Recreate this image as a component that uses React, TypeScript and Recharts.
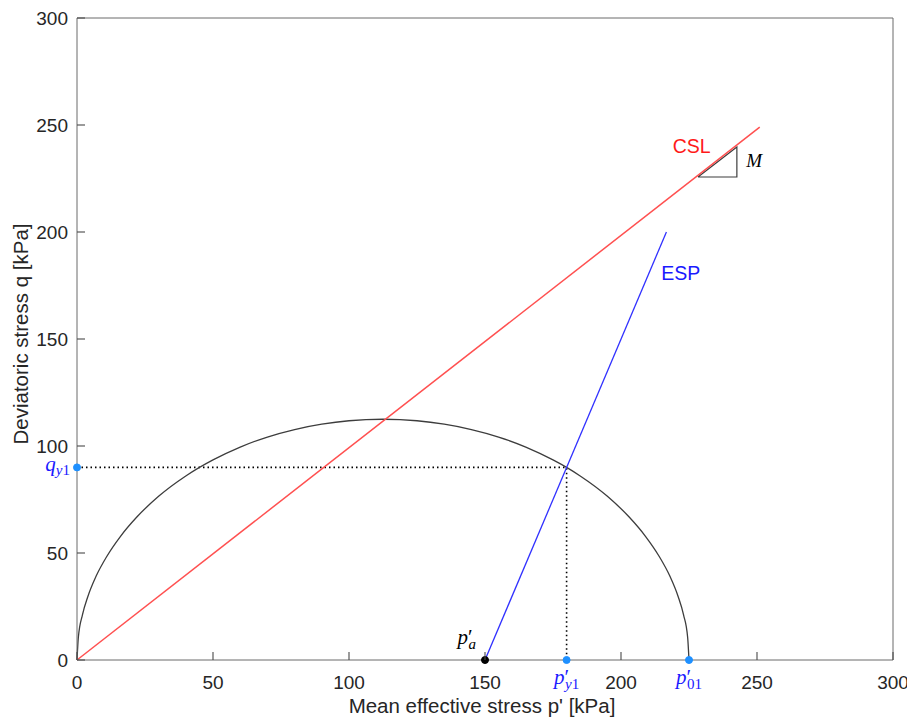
import React from 'react';
import { ComposedChart, Line, XAxis, YAxis, ReferenceDot } from 'recharts';

const axisTicks = [0, 50, 100, 150, 200, 250, 300];

const ellipseP = [0, 0.5, 2, 4, 7, 11, 16, 22, 30, 40, 50, 60, 70, 80, 90, 100, 112.5, 125, 135, 145, 155, 165, 175, 180, 185, 195, 203, 209, 214, 218, 221, 223, 224.5, 225];
const ellipseQ = [0, 10.6, 21.1, 29.7, 39.1, 48.5, 57.8, 66.8, 76.5, 86.0, 93.5, 99.5, 104.2, 107.7, 110.2, 111.8, 112.5, 111.8, 110.2, 107.7, 104.2, 99.5, 93.5, 90.0, 86.0, 76.5, 66.8, 57.8, 48.5, 39.1, 29.7, 21.1, 10.6, 0];

const cslP = [0, 251];
const cslQ = [0, 249];

const espP = [150, 216.7];
const espQ = [0, 200];

const guideP = [0, 180, 180];
const guideQ = [90, 90, 0];

const slopeP = [228.3, 242.6, 242.6, 228.3];
const slopeQ = [225.7, 225.7, 239.7, 225.7];

const markerP = [0, 180, 225, 150];
const markerQ = [90, 0, 0, 0];
const markerKind = ['qy1', 'py1', 'p01', 'pa'];
const markerColor = ['#1e90ff', '#1e90ff', '#1e90ff', '#000000'];

const noteText = ['CSL', 'ESP', 'M'];
const noteP = [226, 222, 249];
const noteQ = [237, 177.6, 230.4];

const zip = (ps: number[], qs: number[]) => ps.map((p, i) => ({ p, q: qs[i] }));

const ellipseData = zip(ellipseP, ellipseQ);
const cslData = zip(cslP, cslQ);
const espData = zip(espP, espQ);
const guideData = zip(guideP, guideQ);
const slopeData = zip(slopeP, slopeQ);

const BLUE = '#1a1aff';
const SERIF = '"Liberation Serif", "DejaVu Serif", serif';
const SANS = '"Liberation Sans", Arial, Helvetica, sans-serif';
const AXIS = '#6b6b6b';
const TICKCOL = '#4a4a4a';
const TICKLEN = 8;
const TEXTCOL = '#262626';

const center = (viewBox: any) => ({
  cx: viewBox.x + (viewBox.width || 0) / 2,
  cy: viewBox.y + (viewBox.height || 0) / 2,
});

const BottomTick = (props: any) => {
  const { x, y, payload } = props;
  const gap = 16;
  return (
    <g>
      <line x1={x} x2={x} y1={y - gap} y2={y - gap - TICKLEN} stroke={TICKCOL} strokeWidth={1.1} />
      <text x={x} y={y} dy="0.71em" textAnchor="middle" fill={TEXTCOL} fontFamily={SANS} fontSize={19}>
        {payload.value}
      </text>
    </g>
  );
};

const LeftTick = (props: any) => {
  const { x, y, payload } = props;
  const gap = 9;
  return (
    <g>
      <line x1={x + gap} x2={x + gap + TICKLEN} y1={y} y2={y} stroke={TICKCOL} strokeWidth={1.1} />
      <text x={x} y={y} dy="0.355em" textAnchor="end" fill={TEXTCOL} fontFamily={SANS} fontSize={19}>
        {payload.value}
      </text>
    </g>
  );
};

const TopTick = (props: any) => {
  const { x, y } = props;
  return <line x1={x} x2={x} y1={y} y2={y + TICKLEN} stroke={TICKCOL} strokeWidth={1.1} />;
};

const RightTick = (props: any) => {
  const { x, y } = props;
  return <line x1={x} x2={x - TICKLEN} y1={y} y2={y} stroke={TICKCOL} strokeWidth={1.1} />;
};

const MathLabel = (props: any) => {
  const { viewBox, kind } = props;
  if (!viewBox) return null;
  const { cx, cy } = center(viewBox);
  if (kind === 'qy1') {
    return (
      <text x={cx - 7} y={cy + 4} textAnchor="end" fill={BLUE} fontFamily={SERIF} fontSize={21}>
        <tspan fontStyle="italic">q</tspan>
        <tspan fontSize={15} dy={4}>
          <tspan fontStyle="italic">y</tspan>1
        </tspan>
      </text>
    );
  }
  if (kind === 'py1' || kind === 'p01') {
    return (
      <text x={cx} y={cy + 24} textAnchor="middle" fill={BLUE} fontFamily={SERIF} fontSize={21}>
        <tspan fontStyle="italic">p</tspan>
        <tspan>′</tspan>
        <tspan fontSize={15} dy={5} dx={-4}>
          {kind === 'py1' ? (
            <>
              <tspan fontStyle="italic">y</tspan>1
            </>
          ) : (
            '01'
          )}
        </tspan>
      </text>
    );
  }
  return (
    <text x={cx - 9} y={cy - 16} textAnchor="end" fill="#000" fontFamily={SERIF} fontSize={21}>
      <tspan fontStyle="italic">p</tspan>
      <tspan>′</tspan>
      <tspan fontSize={15} dy={5} dx={-4} fontStyle="italic">a</tspan>
    </text>
  );
};

const NoteLabel = (props: any) => {
  const { viewBox, text } = props;
  if (!viewBox) return null;
  const { cx, cy } = center(viewBox);
  if (text === 'M') {
    return (
      <text x={cx} y={cy} textAnchor="middle" fill="#000" fontFamily={SERIF} fontStyle="italic" fontSize={19}>
        M
      </text>
    );
  }
  return (
    <text x={cx} y={cy} textAnchor="middle" fill={text === 'CSL' ? '#ff1a1a' : BLUE} fontFamily={SANS} fontSize={19.5}>
      {text}
    </text>
  );
};

const XTitle = (props: any) => {
  const { viewBox } = props;
  if (!viewBox) return null;
  return (
    <text x={viewBox.x + viewBox.width / 2 - 3} y={viewBox.y + 53} textAnchor="middle" fill={TEXTCOL} fontFamily={SANS} fontSize={20.5}>
      Mean effective stress p' [kPa]
    </text>
  );
};

const YTitle = (props: any) => {
  const { viewBox } = props;
  if (!viewBox) return null;
  const x = 28;
  const y = 334;
  return (
    <text x={x} y={y} transform={`rotate(-90, ${x}, ${y})`} textAnchor="middle" fill={TEXTCOL} fontFamily={SANS} fontSize={20.5}>
      Deviatoric stress q [kPa]
    </text>
  );
};

export default function App() {
  return (
    <div style={{ position: 'absolute', left: 0, top: 0, width: 907, height: 719, background: '#fff' }}>
      <ComposedChart width={907} height={719} margin={{ top: 17, right: 13, left: 17, bottom: 19 }}>
        <XAxis
          xAxisId={0}
          dataKey="p"
          type="number"
          domain={[0, 300]}
          ticks={axisTicks}
          interval={0}
          height={40}
          tickSize={0}
          tickMargin={16}
          tick={<BottomTick />}
          tickLine={false}
          axisLine={{ stroke: AXIS }}
          label={<XTitle />}
        />
        <XAxis
          xAxisId="top"
          orientation="top"
          dataKey="p"
          type="number"
          domain={[0, 300]}
          ticks={axisTicks}
          interval={0}
          height={1}
          tickSize={0}
          tickMargin={0}
          tick={<TopTick />}
          tickLine={false}
          axisLine={{ stroke: AXIS }}
        />
        <YAxis
          yAxisId={0}
          type="number"
          domain={[0, 300]}
          ticks={axisTicks}
          interval={0}
          width={60}
          tickSize={0}
          tickMargin={9}
          tick={<LeftTick />}
          tickLine={false}
          axisLine={{ stroke: AXIS }}
          label={<YTitle />}
        />
        <YAxis
          yAxisId="right"
          orientation="right"
          type="number"
          domain={[0, 300]}
          ticks={axisTicks}
          interval={0}
          width={1}
          tickSize={0}
          tickMargin={0}
          tick={<RightTick />}
          tickLine={false}
          axisLine={{ stroke: AXIS }}
        />
        <Line data={guideData} dataKey="q" type="linear" stroke="#000" strokeWidth={1.6} strokeDasharray="1.5 3" dot={false} activeDot={false} isAnimationActive={false} />
        <Line data={ellipseData} dataKey="q" type="monotone" stroke="#3d3d3d" strokeWidth={1.3} dot={false} activeDot={false} isAnimationActive={false} />
        <Line data={slopeData} dataKey="q" type="linear" stroke="#3d3d3d" strokeWidth={1.2} dot={false} activeDot={false} isAnimationActive={false} />
        <Line data={cslData} dataKey="q" type="linear" stroke="#ff5050" strokeWidth={1.5} dot={false} activeDot={false} isAnimationActive={false} />
        <Line data={espData} dataKey="q" type="linear" stroke="#3030ff" strokeWidth={1.3} dot={false} activeDot={false} isAnimationActive={false} />
        {markerP.map((p, i) => (
          <ReferenceDot
            key={`m${i}`}
            x={p}
            y={markerQ[i]}
            r={3.5}
            fill={markerColor[i]}
            stroke={markerColor[i]}
            ifOverflow="visible"
            label={<MathLabel kind={markerKind[i]} />}
          />
        ))}
        {noteText.map((t, i) => (
          <ReferenceDot
            key={`n${i}`}
            x={noteP[i]}
            y={noteQ[i]}
            r={0}
            fill="none"
            stroke="none"
            ifOverflow="visible"
            label={<NoteLabel text={t} />}
          />
        ))}
      </ComposedChart>
    </div>
  );
}
